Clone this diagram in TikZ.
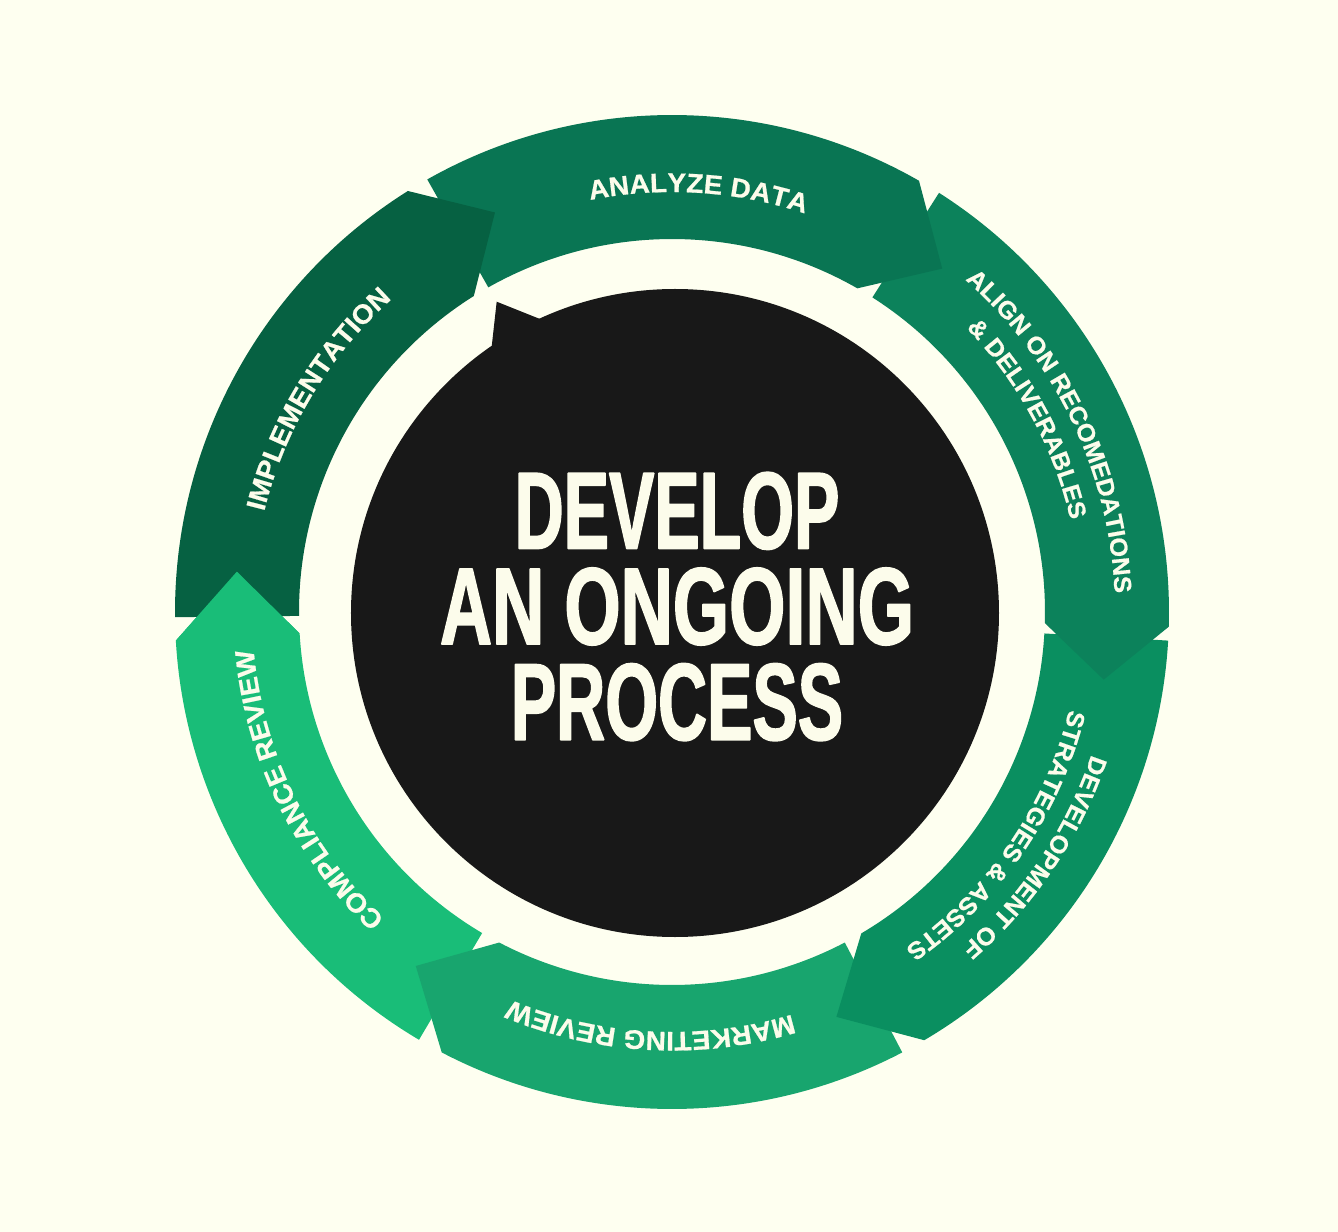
\documentclass[tikz,border=0pt]{standalone}
\usepackage{fontspec}
\usetikzlibrary{decorations.text}
\newfontfamily\titlefont{Liberation Sans Bold}[FakeStretch=0.62,FakeBold=1.4]
\newfontfamily\ringfont{Liberation Sans Bold}[FakeStretch=1.04,FakeBold=0.7]
\definecolor{bgcream}{HTML}{FEFFF0}
\definecolor{txtcream}{HTML}{FCFCEB}
\definecolor{blk}{HTML}{181818}
\definecolor{implcol}{HTML}{066142}
\definecolor{analyzecol}{HTML}{097553}
\definecolor{aligncol}{HTML}{0C825B}
\definecolor{devcol}{HTML}{0A8F60}
\definecolor{marketcol}{HTML}{18A56E}
\definecolor{compcol}{HTML}{19BD78}
\begin{document}
\begin{tikzpicture}[line join=bevel,
  ring_text/.style={decorate,decoration={text along path,text align=center,
    text={|\color{txtcream}\ringfont\fontsize{27}{32}\selectfont|#1}}},
  ring_text_pair/.style={decorate,decoration={text along path,text align=center,
    text={|\color{txtcream}\ringfont\fontsize{24.5}{29}\selectfont|#1}}}]
%%
\fill [bgcream] (-672bp,-620bp) rectangle (666bp,612bp);
\fill [blk] (3bp,-1bp) circle [radius=324bp];
\fill [blk] (-180.7bp,261.7bp) -- (-175.3bp,310.3bp) -- (-127.5bp,291.2bp) -- cycle;
\node (title) at (5.0bp,5.5bp) [align=center,text=txtcream,font=\titlefont\fontsize{110}{96}\selectfont] {DEVELOP\\{\addfontfeature{FakeStretch=0.66}AN ONGOING}\\PROCESS};
%
\fill [compcol] (239.4:497bp) arc [start angle=239.4,end angle=183.3,radius=497bp] -- (174.7:437bp) -- (183.3:373bp) arc [start angle=183.3,end angle=239.4,radius=373bp] -- cycle;
\fill [marketcol] (-62.4:497bp) arc [start angle=-62.4,end angle=-117.6,radius=497bp] -- (-125.9:437bp) -- (-117.6:373bp) arc [start angle=-117.6,end angle=-62.4,radius=373bp] -- cycle;
\fill [devcol] (-3.3:497bp) arc [start angle=-3.3,end angle=-59.5,radius=497bp] -- (-67.9:437bp) -- (-59.5:373bp) arc [start angle=-59.5,end angle=-3.3,radius=373bp] -- cycle;
\fill [aligncol] (57.5:497bp) arc [start angle=57.5,end angle=-1.7,radius=497bp] -- (-8.9:437bp) -- (-1.7:373bp) arc [start angle=-1.7,end angle=57.5,radius=373bp] -- cycle;
\fill [analyzecol] (119.5:497bp) arc [start angle=119.5,end angle=60.2,radius=497bp] -- (51.8:437bp) -- (60.2:373bp) arc [start angle=60.2,end angle=119.5,radius=373bp] -- cycle;
\fill [implcol] (180.6:497bp) arc [start angle=180.6,end angle=122.1,radius=497bp] -- (113.9:437bp) -- (122.1:373bp) arc [start angle=122.1,end angle=180.6,radius=373bp] -- cycle;
\fill [compcol] (183.3:497bp) -- (174.7:437bp) -- (183.3:373bp) -- cycle;
%
\path [ring_text={ANALYZE DATA}] (126.4:420bp) arc [start angle=126.4,end angle=46.4,radius=420bp];
\path [ring_text_pair={ALIGN ON RECOMEDATIONS}] (65.5:443bp) arc [start angle=65.5,end angle=-14.5,radius=443bp];
\path [ring_text_pair={{\&} DELIVERABLES}] (68.5:409bp) arc [start angle=68.5,end angle=-11.5,radius=409bp];
\path [ring_text_pair={DEVELOPMENT OF}] (6:443bp) arc [start angle=6,end angle=-74,radius=443bp];
\path [ring_text_pair={STRATEGIES {\&} ASSETS}] (5.5:409bp) arc [start angle=5.5,end angle=-74.5,radius=409bp];
\path [ring_text={MARKETING REVIEW}] (-53:420bp) arc [start angle=-53,end angle=-133,radius=420bp];
\path [ring_text={COMPLIANCE REVIEW}] (246:420bp) arc [start angle=246,end angle=166,radius=420bp];
\path [ring_text={IMPLEMENTATION}] (189:420bp) arc [start angle=189,end angle=109,radius=420bp];
%
\end{tikzpicture}
\end{document}
